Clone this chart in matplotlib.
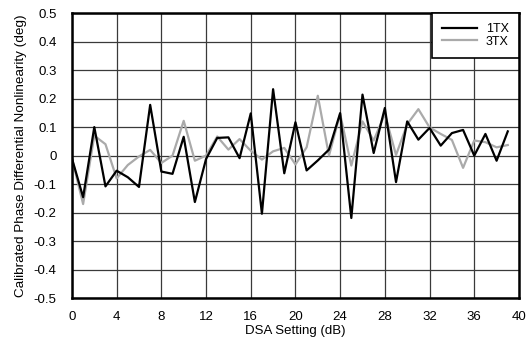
import matplotlib

matplotlib.use("Agg")

import matplotlib.pyplot as plt  # noqa: E402

plt.rcParams["font.family"] = ["Liberation Sans", "DejaVu Sans"]

# DSA setting (dB) and calibrated phase DNL (deg) per TX channel
dsa = list(range(40))
tx1 = [-0.01, -0.146, 0.10, -0.108, -0.053, -0.076, -0.11, 0.178, -0.056, -0.064,
       0.066, -0.163, -0.012, 0.062, 0.064, -0.009, 0.148, -0.204, 0.233, -0.062,
       0.117, -0.052, -0.017, 0.021, 0.149, -0.219, 0.214, 0.009, 0.167, -0.093,
       0.12, 0.056, 0.097, 0.035, 0.079, 0.09, 0.0, 0.076, -0.018, 0.085]
tx3 = [-0.01, -0.17, 0.07, 0.04, -0.08, -0.033, -0.003, 0.02, -0.026, 0.0,
       0.122, -0.018, 0.0, 0.067, 0.021, 0.058, 0.017, -0.014, 0.015, 0.027,
       -0.031, 0.029, 0.21, 0.0, 0.146, -0.035, 0.12, 0.053, 0.146, 0.002,
       0.11, 0.163, 0.099, 0.076, 0.055, -0.043, 0.053, 0.047, 0.029, 0.037]

xticks = list(range(0, 41, 4))
yticks = [round(-0.5 + 0.1 * i, 1) for i in range(11)]
ytick_labels = ["0" if v == 0 else f"{v:g}" for v in yticks]

fig = plt.figure(figsize=(5.29, 3.45), dpi=100)
ax = fig.add_axes([0.136, 0.136, 0.845, 0.826])

ax.plot(dsa, tx1, color="black", lw=1.6, label="1TX", zorder=3)
ax.plot(dsa, tx3, color="#aaaaaa", lw=1.6, label="3TX", zorder=2)

ax.set_xlim(0, 40)
ax.set_ylim(-0.5, 0.5)
ax.set_xticks(xticks)
ax.set_yticks(yticks)
ax.set_yticklabels(ytick_labels)
ax.grid(True, color="#3a3a3a", lw=0.9)
ax.tick_params(axis="y", length=0, labelsize=9.5, pad=11)
ax.tick_params(axis="x", length=0, labelsize=9.5, pad=9)
for s in ax.spines.values():
    s.set_linewidth(1.8)

ax.set_xlabel("DSA Setting (dB)", fontsize=9.5, labelpad=2)
ax.set_ylabel("Calibrated Phase Differential Nonlinearity (deg)", fontsize=9.7, labelpad=5)

leg = ax.legend(loc="upper right", borderaxespad=0, fancybox=False, framealpha=1,
                edgecolor="black", fontsize=9, handlelength=2.8,
                labelspacing=0.05, borderpad=0.8, handletextpad=0.7)
leg.get_frame().set_linewidth(1.2)

fig.savefig("out.png", dpi=100)
